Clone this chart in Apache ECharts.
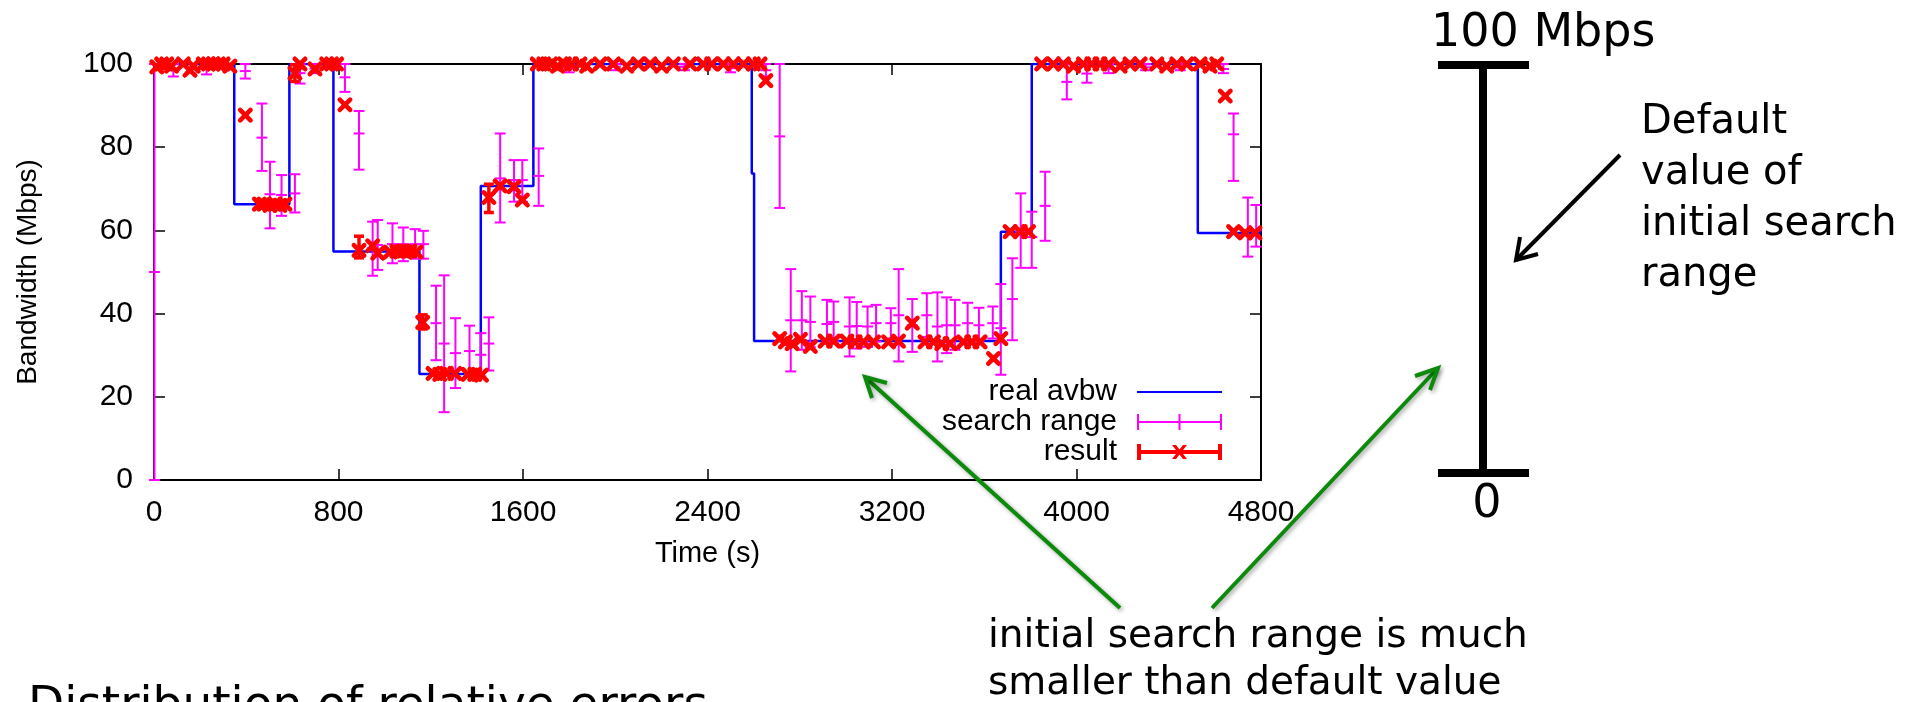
<!DOCTYPE html>
<html><head><meta charset="utf-8">
<script src="https://cdn.jsdelivr.net/npm/echarts@6/dist/echarts.min.js"></script>
<style>html,body{margin:0;padding:0;background:#fff}#c{width:1921px;height:702px}</style>
</head><body><div id="c"></div>
<script>
// ---- data ----
const xTicks = [0, 800, 1600, 2400, 3200, 4000, 4800];
const yTicks = [0, 20, 40, 60, 80, 100];

// real available bandwidth (step changes): time, value
const avbwTime  = [0, 348, 587, 778, 1151, 1417, 1645, 2592, 2602, 3672, 3806, 4526, 4800];
const avbwValue = [100, 66.3, 100, 54.9, 25.5, 70.7, 100, 73.7, 33.4, 59.7, 100, 59.4, 59.4];

// search range: [time, low, middle, high]
const searchRange = [
  [2, 0, 50, 100], [84, 97, 98.5, 100], [228, 97.5, 98.8, 100], [396, 96.5, 98.3, 100],
  [468, 74.3, 82.3, 90.5], [503, 60.5, 68.7, 76.5], [553, 63.5, 68.5, 73.3], [611, 64.3, 68.9, 73.5],
  [633, 95.3, 97.8, 100], [698, 97.8, 98.9, 100], [828, 93.3, 96.8, 100], [889, 74.6, 83.3, 88.7],
  [948, 49.1, 55.8, 62.1], [970, 50.5, 56.5, 62.5], [1034, 52.1, 56.7, 61.7], [1081, 52.6, 56.7, 60.7],
  [1132, 53.2, 56.7, 60.3], [1168, 53.2, 56.7, 59.9], [1223, 28.8, 37.7, 46.7], [1258, 16.3, 32.8, 49.2],
  [1307, 22.1, 30.5, 38.9], [1368, 25.5, 31.0, 37.1], [1417, 24.9, 30.1, 35.3], [1452, 26.3, 32.8, 39.1],
  [1501, 61.9, 72.5, 83.3], [1561, 66.9, 72.1, 76.9], [1597, 66.9, 72.1, 76.9], [1668, 65.9, 73.1, 79.7],
  [1800, 98, 99, 100], [2000, 98.5, 99.3, 100], [2300, 98.5, 99.3, 100], [2500, 98, 99, 100],
  [2653, 97, 98.5, 100], [2713, 65.4, 82.6, 100], [2761, 26.1, 38.4, 50.7], [2809, 31.3, 38.4, 45.4],
  [2846, 31.9, 38.0, 44.1], [2918, 33.0, 37.5, 43.3], [2947, 33.3, 38.0, 42.9], [3016, 29.7, 36.9, 43.9],
  [3047, 31.6, 37.0, 42.8], [3094, 32.0, 36.9, 41.7], [3131, 33.3, 37.7, 42.1], [3195, 34.0, 37.7, 41.3],
  [3229, 28.5, 39.6, 50.7], [3288, 30.8, 37.2, 43.5], [3351, 34.4, 39.6, 44.9], [3397, 28.5, 36.9, 45.1],
  [3437, 30.5, 37.2, 43.9], [3473, 31.3, 37.2, 43.3], [3528, 32.7, 37.7, 42.6], [3577, 33.3, 37.2, 41.4],
  [3637, 34.0, 37.7, 41.7], [3672, 25.3, 36.5, 47.1], [3722, 33.6, 43.5, 53.3], [3758, 51.0, 59.7, 68.9],
  [3806, 51.0, 58.4, 64.5], [3864, 57.5, 65.9, 74.1], [3958, 91.5, 95.7, 100], [4045, 95.5, 97.7, 100],
  [4139, 97.8, 98.9, 100], [4300, 98.5, 99.2, 100], [4450, 98.5, 99.2, 100], [4637, 97.8, 98.8, 100],
  [4681, 71.9, 83.1, 88.1], [4743, 53.7, 60.0, 67.9], [4779, 56.1, 60.0, 66.1]
];

// result: [time, value, low, high]
const results = [
  [12, 99.3, 99.3, 99.3], [33, 100, 100, 100], [55, 100, 100, 100], [76, 99.5, 99.5, 99.5],
  [127, 100, 100, 100], [156, 98.5, 98.5, 98.5], [170, 99.5, 99.5, 99.5], [214, 100, 100, 100],
  [236, 100, 100, 100], [257, 100, 100, 100], [279, 100, 100, 100], [300, 100, 100, 100],
  [329, 99.5, 99.5, 99.5], [396, 87.7, 87.7, 87.7],
  [457, 66.3, 66.3, 66.3], [477, 66.3, 66.3, 66.3], [503, 66.0, 66.0, 66.0], [525, 66.3, 66.3, 66.3],
  [546, 66.0, 66.0, 66.0], [568, 66.3, 66.3, 66.3],
  [611, 97.8, 95.8, 99.8], [633, 100, 100, 100], [698, 98.8, 98.8, 98.8], [749, 100, 100, 100],
  [770, 100, 100, 100], [792, 100, 100, 100], [828, 90.2, 90.2, 90.2], [889, 55.2, 53.4, 58.6],
  [948, 56.3, 56.3, 56.3], [970, 54.5, 54.5, 54.5], [1024, 54.8, 54.8, 54.8], [1053, 55.0, 55.0, 55.0],
  [1081, 55.0, 55.0, 55.0], [1110, 55.0, 55.0, 55.0], [1136, 54.8, 54.8, 54.8], [1165, 37.9, 36.3, 39.7],
  [1210, 25.6, 25.6, 25.6], [1239, 25.4, 25.4, 25.4], [1268, 25.6, 25.6, 25.6], [1304, 25.6, 25.6, 25.6],
  [1362, 25.4, 25.4, 25.4], [1391, 25.4, 25.4, 25.4], [1420, 25.2, 25.2, 25.2], [1452, 67.9, 64.3, 71.1],
  [1501, 70.7, 70.7, 70.7], [1561, 70.5, 70.5, 70.5], [1597, 67.3, 67.3, 67.3],
  [1662, 100, 100, 100], [1690, 100, 100, 100], [1720, 100, 100, 100], [1750, 99.5, 99.5, 99.5],
  [1780, 100, 100, 100], [1810, 100, 100, 100], [1847, 100, 100, 100], [1876, 99.5, 99.5, 99.5],
  [1934, 100, 100, 100], [1992, 100, 100, 100], [2050, 99.5, 99.5, 99.5], [2100, 100, 100, 100],
  [2151, 100, 100, 100], [2201, 99.5, 99.5, 99.5], [2252, 100, 100, 100], [2324, 100, 100, 100],
  [2382, 100, 100, 100], [2418, 100, 100, 100], [2469, 100, 100, 100], [2512, 100, 100, 100],
  [2556, 100, 100, 100], [2599, 100, 100, 100], [2628, 100, 100, 100], [2653, 96.0, 96.0, 96.0],
  [2713, 34.0, 34.0, 34.0], [2738, 33.2, 33.2, 33.2], [2767, 32.8, 32.8, 32.8], [2803, 33.8, 33.8, 33.8],
  [2846, 32.1, 32.1, 32.1], [2910, 33.4, 33.4, 33.4], [2947, 33.4, 33.4, 33.4], [3004, 33.4, 33.4, 33.4],
  [3040, 33.2, 33.2, 33.2], [3076, 33.2, 33.2, 33.2], [3120, 33.2, 33.2, 33.2], [3185, 33.2, 33.2, 33.2],
  [3228, 33.4, 33.4, 33.4], [3288, 37.7, 37.7, 37.7], [3343, 33.2, 33.2, 33.2], [3380, 33.2, 33.2, 33.2],
  [3416, 32.8, 32.8, 32.8], [3452, 32.8, 32.8, 32.8], [3510, 33.2, 33.2, 33.2], [3546, 33.2, 33.2, 33.2],
  [3582, 33.2, 33.2, 33.2], [3640, 29.2, 29.2, 29.2], [3672, 34.0, 34.0, 34.0],
  [3712, 59.7, 59.7, 59.7], [3756, 59.7, 59.7, 59.7], [3792, 59.7, 59.7, 59.7],
  [3849, 100, 100, 100], [3900, 100, 100, 100], [3943, 100, 100, 100], [3987, 99.5, 99.5, 99.5],
  [4030, 100, 100, 100], [4066, 100, 100, 100], [4102, 100, 100, 100], [4139, 100, 100, 100],
  [4189, 99.5, 99.5, 99.5], [4232, 100, 100, 100], [4276, 100, 100, 100], [4348, 100, 100, 100],
  [4391, 99.5, 99.5, 99.5], [4435, 100, 100, 100], [4478, 100, 100, 100], [4536, 100, 100, 100],
  [4579, 99.5, 99.5, 99.5], [4608, 100, 100, 100], [4645, 92.3, 92.3, 92.3],
  [4681, 59.7, 59.7, 59.7], [4731, 59.4, 59.4, 59.4], [4774, 59.4, 59.4, 59.4]
];

const legendNames = ['real avbw', 'search range', 'result'];

// ---- chart ----
const chart = echarts.init(document.getElementById('c'), null, {renderer: 'canvas'});
const GF = 'Liberation Sans, Arial, Helvetica, sans-serif';
const AF = '"DejaVu Sans", Verdana, sans-serif';

function renderRange(params, api) {
  const t = api.value(0);
  const lo = api.coord([t, api.value(1)]);
  const mid = api.coord([t, api.value(2)]);
  const hi = api.coord([t, api.value(3)]);
  const hw = 5.5;
  const st = () => ({stroke: '#ff00ff', lineWidth: 2});
  return {type: 'group', children: [
    {type: 'line', shape: {x1: lo[0], y1: lo[1], x2: hi[0], y2: hi[1]}, style: st()},
    {type: 'line', shape: {x1: lo[0] - hw, y1: lo[1], x2: lo[0] + hw, y2: lo[1]}, style: st()},
    {type: 'line', shape: {x1: hi[0] - hw, y1: hi[1], x2: hi[0] + hw, y2: hi[1]}, style: st()},
    {type: 'line', shape: {x1: mid[0] - hw, y1: mid[1], x2: mid[0] + hw, y2: mid[1]}, style: st()}
  ]};
}

function renderResult(params, api) {
  const t = api.value(0);
  const p = api.coord([t, api.value(1)]);
  const s = 5.2;
  const st = () => ({stroke: '#ff0000', lineWidth: 4.6, lineCap: 'round'});
  const children = [
    {type: 'line', shape: {x1: p[0] - s, y1: p[1] - s, x2: p[0] + s, y2: p[1] + s}, style: st()},
    {type: 'line', shape: {x1: p[0] - s, y1: p[1] + s, x2: p[0] + s, y2: p[1] - s}, style: st()}
  ];
  const loV = api.value(2), hiV = api.value(3);
  if (hiV > loV) {
    const lo = api.coord([t, loV]), hi = api.coord([t, hiV]);
    const eb = () => ({stroke: '#ff0000', lineWidth: 3.5});
    children.push(
      {type: 'line', shape: {x1: lo[0], y1: lo[1], x2: hi[0], y2: hi[1]}, style: eb()},
      {type: 'line', shape: {x1: lo[0] - 5, y1: lo[1], x2: lo[0] + 5, y2: lo[1]}, style: eb()},
      {type: 'line', shape: {x1: hi[0] - 5, y1: hi[1], x2: hi[0] + 5, y2: hi[1]}, style: eb()}
    );
  }
  return {type: 'group', children};
}

const axisCommon = {
  type: 'value', min: xTicks[0], max: xTicks[xTicks.length - 1], interval: xTicks[1] - xTicks[0],
  axisLine: {show: true, onZero: false, lineStyle: {color: '#000', width: 2}},
  axisTick: {show: true, inside: true, length: 11, lineStyle: {color: '#000', width: 1.5}},
  splitLine: {show: false}
};
const yCommon = {
  type: 'value', min: yTicks[0], max: yTicks[yTicks.length - 1], interval: yTicks[1] - yTicks[0],
  axisLine: {show: true, onZero: false, lineStyle: {color: '#000', width: 2}},
  axisTick: {show: true, inside: true, length: 11, lineStyle: {color: '#000', width: 1.5}},
  splitLine: {show: false}
};

const greenStyle = () => ({stroke: '#0b8a0b', lineWidth: 4, fill: null,
  shadowBlur: 4, shadowColor: 'rgba(0,0,0,0.35)', shadowOffsetX: 2, shadowOffsetY: 2});

const option = {
  animation: false,
  backgroundColor: '#fff',
  textStyle: {fontFamily: GF},
  grid: {left: 154, top: 64, width: 1107, height: 416, containLabel: false},
  xAxis: [
    Object.assign({}, axisCommon, {
      position: 'bottom',
      axisLabel: {color: '#000', fontSize: 30, fontFamily: GF, margin: 18, formatter: v => String(v)},
      name: 'Time (s)', nameLocation: 'middle', nameGap: 59,
      nameTextStyle: {color: '#000', fontSize: 29, fontFamily: GF}
    }),
    Object.assign({}, axisCommon, {position: 'top', axisLabel: {show: false}})
  ],
  yAxis: [
    Object.assign({}, yCommon, {
      position: 'left',
      axisLabel: {color: '#000', fontSize: 30, fontFamily: GF, margin: 21, formatter: v => String(v)},
      name: 'Bandwidth (Mbps)', nameLocation: 'middle', nameRotate: 90, nameGap: 112,
      nameTextStyle: {color: '#000', fontSize: 28, fontFamily: GF}
    }),
    Object.assign({}, yCommon, {position: 'right', axisLabel: {show: false}})
  ],
  legend: {
    orient: 'vertical', align: 'right', right: 698, top: 377, padding: 0,
    itemWidth: 85, itemHeight: 16, itemGap: 0, selectedMode: false,
    itemStyle: {borderWidth: 0},
    textStyle: {color: '#000', fontSize: 30, fontFamily: GF, lineHeight: 30, padding: [0, 15, 0, 0]},
    data: [
      {name: legendNames[0], itemStyle: {opacity: 0}},
      {name: legendNames[1], icon: 'path://M0,0 H2 V7 H41.5 V0 H43.5 V7 H83 V0 H85 V16 H83 V9 H43.5 V16 H41.5 V9 H2 V16 H0 Z'},
      {name: legendNames[2], icon: 'path://M0,0 H4 V6 H81 V0 H85 V16 H81 V10 H4 V16 H0 Z M35,1 H39 L50,15 H46 Z M46,1 H50 L39,15 H35 Z'}
    ]
  },
  series: [
    {
      name: legendNames[0], type: 'line', step: 'end', symbol: 'none', showSymbol: false,
      xAxisIndex: 0, yAxisIndex: 0, z: 2,
      lineStyle: {color: '#0000ff', width: 2.5}, itemStyle: {color: '#0000ff'},
      data: avbwTime.map((t, i) => [t, avbwValue[i]])
    },
    {
      name: legendNames[1], type: 'custom', xAxisIndex: 0, yAxisIndex: 0, z: 3,
      itemStyle: {color: '#ff00ff'},
      renderItem: renderRange, encode: {x: 0, y: [1, 2, 3]},
      data: searchRange
    },
    {
      name: legendNames[2], type: 'custom', xAxisIndex: 0, yAxisIndex: 0, z: 4,
      itemStyle: {color: '#ff0000'},
      renderItem: renderResult, encode: {x: 0, y: [1, 2, 3]},
      data: results
    }
  ],
  graphic: [
    // scale bar: default initial search range
    {type: 'line', z: 50, shape: {x1: 1483, y1: 65, x2: 1483, y2: 473}, style: {stroke: '#000', lineWidth: 8}},
    {type: 'line', z: 50, shape: {x1: 1438, y1: 65, x2: 1529, y2: 65}, style: {stroke: '#000', lineWidth: 8}},
    {type: 'line', z: 50, shape: {x1: 1438, y1: 473, x2: 1529, y2: 473}, style: {stroke: '#000', lineWidth: 8}},
    {type: 'text', z: 50, style: {text: '100 Mbps', x: 1431, y: 34, font: '46px ' + AF, fill: '#000', verticalAlign: 'middle', align: 'left'}},
    {type: 'text', z: 50, style: {text: '0', x: 1487, y: 505, font: '46px ' + AF, fill: '#000', verticalAlign: 'middle', align: 'center'}},
    {type: 'text', z: 50, style: {text: 'Default', x: 1641, y: 123, font: '40px ' + AF, fill: '#000', verticalAlign: 'middle', align: 'left'}},
    {type: 'text', z: 50, style: {text: 'value of', x: 1641, y: 174, font: '40px ' + AF, fill: '#000', verticalAlign: 'middle', align: 'left'}},
    {type: 'text', z: 50, style: {text: 'initial search', x: 1641, y: 225, font: '40px ' + AF, fill: '#000', verticalAlign: 'middle', align: 'left'}},
    {type: 'text', z: 50, style: {text: 'range', x: 1641, y: 276, font: '40px ' + AF, fill: '#000', verticalAlign: 'middle', align: 'left'}},
    // black arrow
    {type: 'polyline', z: 50, shape: {points: [[1620, 155], [1516, 260]]}, style: {stroke: '#000', lineWidth: 4}},
    {type: 'polyline', z: 50, shape: {points: [[1520, 237], [1516, 260], [1538, 254]]}, style: {stroke: '#000', lineWidth: 4, fill: null, lineJoin: 'miter'}},
    // bottom annotation
    {type: 'text', z: 50, style: {text: 'initial search range is much', x: 988, y: 637, font: '39px ' + AF, fill: '#000', verticalAlign: 'middle', align: 'left'}},
    {type: 'text', z: 50, style: {text: 'smaller than default value', x: 988, y: 684, font: '39px ' + AF, fill: '#000', verticalAlign: 'middle', align: 'left'}},
    {type: 'text', z: 50, style: {text: 'Distribution of relative errors', x: 28, y: 707, font: '47px ' + AF, fill: '#000', verticalAlign: 'middle', align: 'left'}},
    // green arrows
    {type: 'polyline', z: 60, shape: {points: [[1120, 608], [866, 378]]}, style: greenStyle()},
    {type: 'polyline', z: 60, shape: {points: [[887, 383], [865, 377], [872, 398]]}, style: greenStyle()},
    {type: 'polyline', z: 60, shape: {points: [[1212, 608], [1437, 369]]}, style: greenStyle()},
    {type: 'polyline', z: 60, shape: {points: [[1415, 376], [1438, 368], [1430, 390]]}, style: greenStyle()}
  ]
};
chart.setOption(option);
</script></body></html>
